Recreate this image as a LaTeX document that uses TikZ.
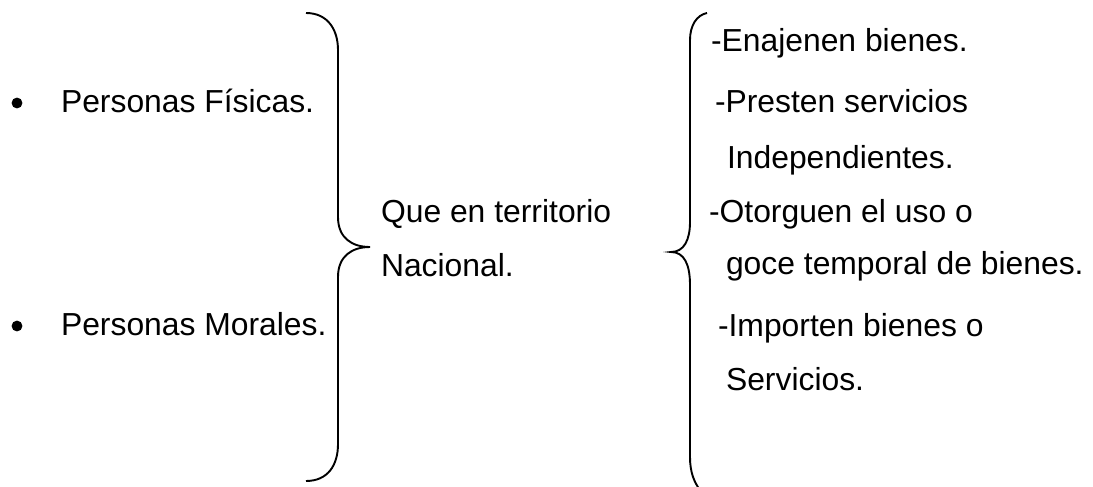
\documentclass[tikz,border=0pt]{standalone}
\usepackage{fontspec}
\setmainfont{Liberation Sans}
\usetikzlibrary{positioning}

\begin{document}
\begin{tikzpicture}[x=0.0138cm, y=-0.0138cm, thick]
	
	\tikzstyle{txt}=[anchor=base west, inner sep=0pt, text=black, font=\fontsize{12.5}{14}\selectfont]
	\tikzstyle{dot}=[circle, fill=black, inner sep=0pt, minimum size=0.15cm]
	\tikzstyle{brace}=[line width=0.75pt, black]
	\useasboundingbox (0,0) rectangle (1093,487);

	\node[dot] (b1) at (17,103) {};
	\node[dot] (b2) at (17,326) {};
	\node[txt] (fis) at (60,112) {Personas Físicas.};
	\node[txt] (mor) at (60,335) {Personas Morales.};

	\node[txt] (que) at (380,222) {Que en territorio};
	\node[txt] (nac) at (380,276) {Nacional.};

	\node[txt] (ena) at (710,51)  {-Enajenen bienes.};
	\node[txt] (pre) at (714,112) {-Presten servicios};
	\node[txt] (ind) at (726,168) {Independientes.};
	\node[txt] (oto) at (708,222) {-Otorguen el uso o};
	\node[txt] (goc) at (725,274) {goce temporal de bienes.};
	\node[txt] (imp) at (717,336) {-Importen bienes o};
	\node[txt] (ser) at (725,390) {Servicios.};

	% llaves
	\draw[brace] (306,13) .. controls (328,13) and (338,30) .. (338,50) -- (338,217)
		.. controls (338,238) and (352,247) .. (370,247)
		.. controls (352,247) and (338,256) .. (338,277) -- (338,444)
		.. controls (338,465) and (328,481) .. (306,481);
	\draw[brace] (707,13) .. controls (697,15) and (690,25) .. (690,40) -- (690,222)
		.. controls (690,240) and (684,252) .. (671,252)
		.. controls (684,252) and (690,264) .. (690,285) -- (690,457)
		.. controls (690,472) and (694,482) .. (700,490);
	
\end{tikzpicture}
\end{document}
